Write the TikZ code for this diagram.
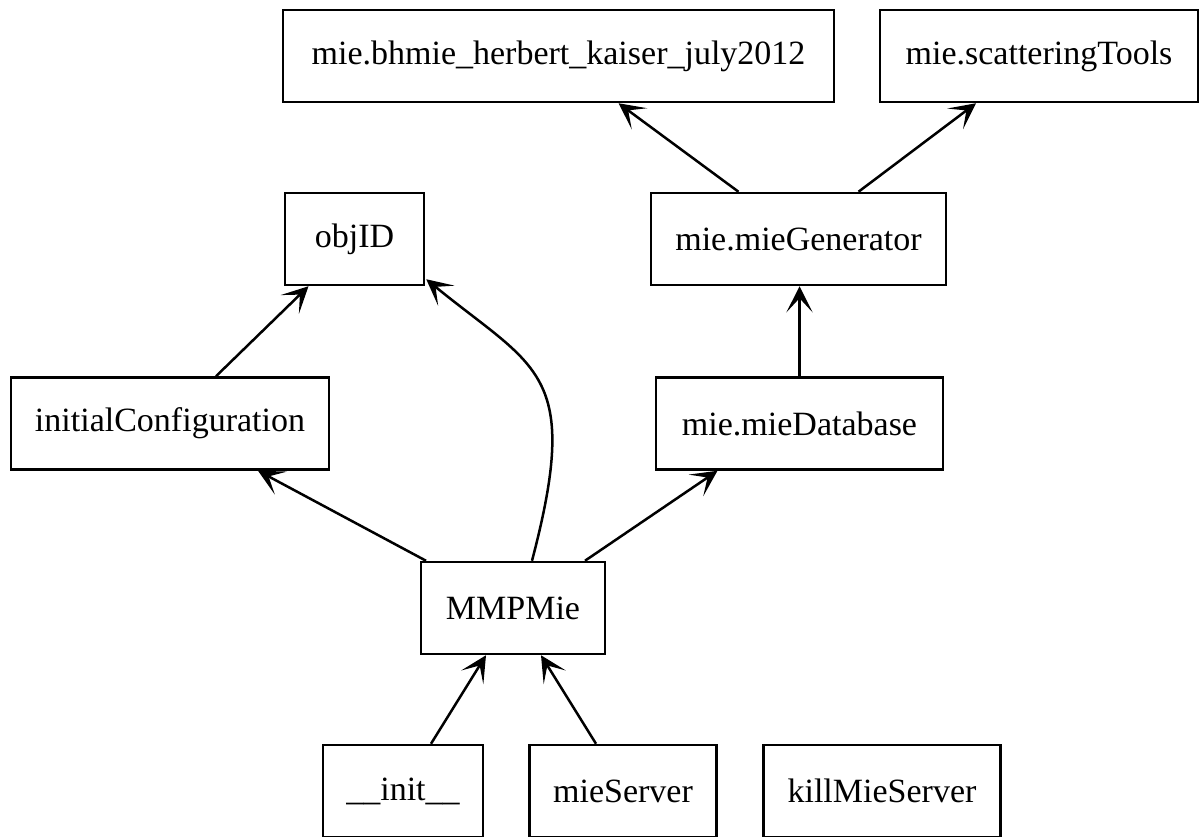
\documentclass[tikz,border=0pt]{standalone}
\usepackage{fontspec}
\setmainfont{Liberation Serif}
\usetikzlibrary{arrows.meta}
\begin{document}
\begin{tikzpicture}[x=1pt,y=-1pt,
  box/.style={draw,line width=2.5pt,rectangle,inner sep=0pt,minimum height=92pt,
    font=\fontsize{34}{40}\selectfont},
  dep/.style={line width=2.5pt,-{Stealth[length=26pt,width=26pt,inset=14pt]}}]
\useasboundingbox (0,0) rectangle (1200,836);
\node[box,minimum width=551pt] (bhmie) at (558.5,56) {mie.bhmie\_herbert\_kaiser\_july2012};
\node[box,minimum width=318pt] (scat) at (1039,56) {mie.scatteringTools};
\node[box,minimum width=139pt] (objID) at (354.5,239) {objID};
\node[box,minimum width=295pt] (gen) at (798.5,239) {mie.mieGenerator};
\node[box,minimum width=318pt] (init) at (170,423.5) {initialConfiguration};
\node[box,minimum width=287pt] (db) at (799.5,423.5) {mie.mieDatabase};
\node[box,minimum width=184pt] (mmp) at (513,608) {MMPMie};
\node[box,minimum width=160pt] (initf) at (403,791) {\_\_init\_\_};
\node[box,minimum width=187pt] (srv) at (623,791) {mieServer};
\node[box,minimum width=237pt] (kill) at (882,791) {killMieServer};

\draw[dep] ([xshift=46pt]init.north) -- ([xshift=-46pt]objID.south);
\draw[dep] ([xshift=-87pt]mmp.north) -- ([xshift=88pt]init.south);
\draw[dep] ([xshift=72pt]mmp.north) -- ([xshift=-82pt]db.south);
\draw[dep] ([xshift=19pt]mmp.north) .. controls +(50,-190) and +(110,90) .. ([xshift=1pt,yshift=7pt]objID.south east);
\draw[dep] (db.north) -- (db.north |- gen.south);
\draw[dep] ([xshift=-60pt]gen.north) -- ([xshift=60pt]bhmie.south);
\draw[dep] ([xshift=60pt]gen.north) -- ([xshift=-63pt]scat.south);
\draw[dep] ([xshift=28pt]initf.north) -- ([xshift=-27pt]mmp.south);
\draw[dep] ([xshift=-27pt]srv.north) -- ([xshift=28pt]mmp.south);
\end{tikzpicture}
\end{document}
